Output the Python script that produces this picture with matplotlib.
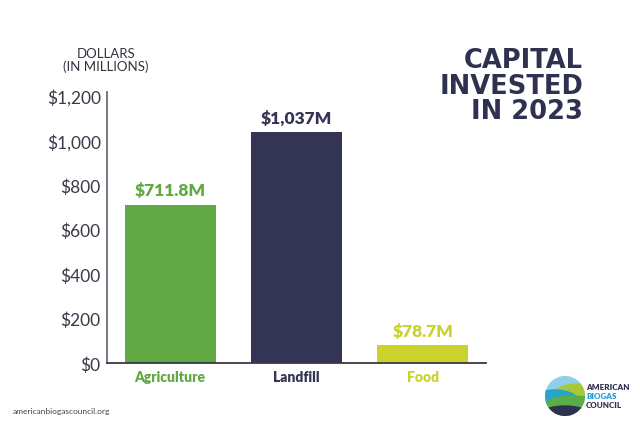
import matplotlib.pyplot as plt
from matplotlib.patches import Circle, Rectangle, Ellipse

# data
categories = ['Agriculture', 'Landfill', 'Food']
values = [711.8, 1037, 78.7]
value_labels = ['$711.8M', '$1,037M', '$78.7M']
bar_colors = ['#62a845', '#343554', '#c9d32c']
yticks = [0, 200, 400, 600, 800, 1000, 1200]
ytick_labels = ['$0', '$200', '$400', '$600', '$800', '$1,000', '$1,200']

navy = '#2f3150'
plt.rcParams['font.family'] = ['Lato', 'DejaVu Sans']

fig = plt.figure(figsize=(6.4, 4.27), dpi=100)
ax = fig.add_axes([107/640, 63/427, (486-107)/640, (364-93)/427])

x = range(len(categories))
ax.bar(x, values, width=0.72, color=bar_colors, zorder=2)
ax.set_xlim(-0.5, 2.5)
ax.set_ylim(0, 1218)

for i, v in enumerate(values):
    ax.text(i, v + 28, value_labels[i], ha='center', va='bottom',
            fontsize=12.5, fontweight='heavy', color=bar_colors[i])

ax.set_yticks(yticks)
ax.set_yticklabels(ytick_labels, fontsize=12.5, color='#3a3a48')
ax.tick_params(axis='y', length=0, pad=4.5)
ax.set_xticks(list(x))
ax.set_xticklabels(categories, fontsize=10, fontweight='heavy')
for lbl, c in zip(ax.get_xticklabels(), bar_colors):
    lbl.set_color(c)
ax.tick_params(axis='x', length=0, pad=5)

for s in ['top', 'right']:
    ax.spines[s].set_visible(False)
ax.spines['left'].set_color('#6b6b75')
ax.spines['bottom'].set_color('#3a3a48')
ax.spines['left'].set_linewidth(1.3)
ax.spines['bottom'].set_linewidth(1.3)

fig.text(106/640, 1 - 48/427, 'DOLLARS\n(IN MILLIONS)', ha='center', va='top',
         fontsize=9.5, color='#333340', linespacing=1.0)

fig.text(583/640, 1 - 48/427, 'CAPITAL\nINVESTED\nIN 2023', ha='right', va='top',
         fontsize=18.5, fontweight='bold', color=navy, linespacing=0.98,
         family='DejaVu Sans')

fig.text(13/640, 1 - 412/427, 'americanbiogascouncil.org', ha='left', va='center',
         fontsize=6, color='#444450')

# logo
lax = fig.add_axes([545/640, 1 - 417/427, 40/640, 40/427])
lax.set_xlim(-1, 1)
lax.set_ylim(-1, 1)
lax.set_aspect('equal')
lax.axis('off')
clip = Circle((0, 0), 1, transform=lax.transData)
parts = [
    Rectangle((-1, -1), 2, 2, color='#8fd0e8'),
    Ellipse((0.6, -0.1), 2.6, 1.4, color='#a8c83a'),
    Ellipse((-0.5, -0.3), 2.4, 1.2, color='#2aa3c8'),
    Ellipse((0.4, -0.5), 2.8, 1.0, color='#5aae48'),
    Ellipse((0, -1.0), 2.6, 1.0, color='#2f3150'),
]
for p in parts:
    lax.add_patch(p)
    p.set_clip_path(clip)

fig.text(586/640, 1 - 388/427, 'AMERICAN', ha='left', va='center',
         fontsize=5.8, fontweight='heavy', color=navy)
fig.text(586/640, 1 - 397/427, 'BIOGAS', ha='left', va='center',
         fontsize=5.8, fontweight='heavy', color='#1f9ad6')
fig.text(586/640, 1 - 406/427, 'COUNCIL', ha='left', va='center',
         fontsize=5.8, fontweight='heavy', color=navy)

fig.savefig('out.png', dpi=100)
